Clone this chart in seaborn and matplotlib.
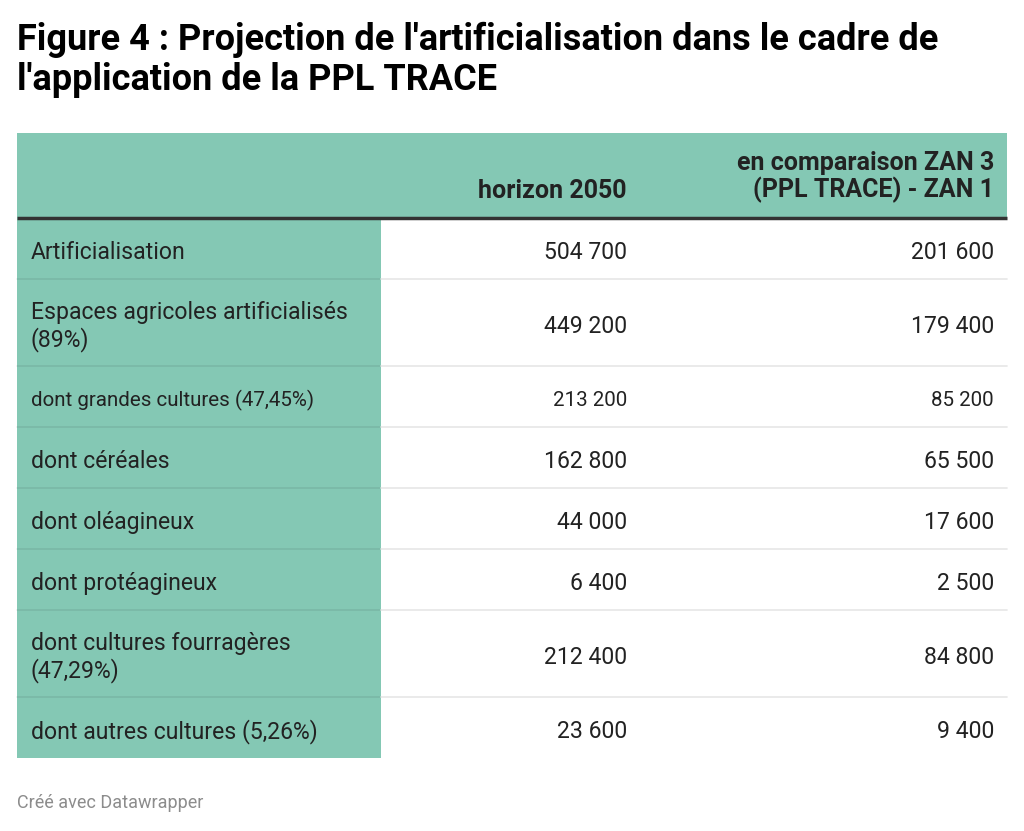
import numpy as np
import matplotlib.pyplot as plt
import seaborn as sns

# --- Données du tableau ---
row_labels = [
    "Artificialisation",
    "Espaces agricoles artificialisés\n(89%)",
    "dont grandes cultures (47,45%)",
    "dont céréales",
    "dont oléagineux",
    "dont protéagineux",
    "dont cultures fourragères\n(47,29%)",
    "dont autres cultures (5,26%)",
]
horizon_2050 = [504700, 449200, 213200, 162800, 44000, 6400, 212400, 23600]
comparaison_zan = [201600, 179400, 85200, 65500, 17600, 2500, 84800, 9400]
col_headers = ["", "horizon 2050", "en comparaison ZAN 3\n(PPL TRACE) - ZAN 1"]
small_rows = [2]  # ligne en plus petit

title = "Figure 4 : Projection de l'artificialisation dans le cadre de\nl'application de la PPL TRACE"
footer = "Créé avec Datawrapper"

GREEN = "#84c8b4"
TEXT = "#222222"


def fmt(v):
    return f"{v:,}".replace(",", " ")


sns.set_theme(style="white")
plt.rcParams["font.family"] = ["Roboto", "DejaVu Sans"]

fig = plt.figure(figsize=(10.24, 8.31), dpi=100)
ax = fig.add_axes([0, 0, 1, 1])
ax.set_xlim(0, 1024)
ax.set_ylim(831, 0)
ax.axis("off")

left, right = 17, 1007
col1_end = 381
x_val1, x_val2 = 627, 994
head_top, head_bot = 133, 218

# --- Hauteurs des lignes (selon nombre de lignes de texte) ---
n_lines = np.array([lab.count("\n") + 1 for lab in row_labels])
heights = 61 + 26 * (n_lines - 1)
tops = head_bot + np.concatenate([[0], np.cumsum(heights)[:-1]])
centers = tops + heights / 2

# --- En-tête ---
ax.barh(head_top, right - left, height=head_bot - head_top, left=left,
        align="edge", color=GREEN, linewidth=0)
ax.text(x_val1, 191, col_headers[1], ha="right", va="center",
        fontsize=18, fontweight="bold", color=TEXT)
ax.text(x_val2, 177, col_headers[2], ha="right", va="center",
        fontsize=18, fontweight="bold", color=TEXT, linespacing=1.12)

# --- Colonne verte des libellés ---
ax.barh(tops, col1_end - left, height=heights, left=left, align="edge",
        color=GREEN, linewidth=0)

# --- Séparateurs ---
for t in tops[1:]:
    ax.plot([left, col1_end], [t, t], color="black", alpha=0.08, lw=1.2)
    ax.plot([col1_end, right], [t, t], color="#e6e6e6", lw=1.2)
ax.plot([left, right], [head_bot, head_bot], color="#333333", lw=2.5,
        solid_capstyle="butt")

# --- Texte des lignes ---
for i, (lab, v1, v2, c) in enumerate(zip(row_labels, horizon_2050,
                                         comparaison_zan, centers)):
    fs = 14.8 if i in small_rows else 16.6
    ax.text(31, c + 4, lab, ha="left", va="center", fontsize=fs, color=TEXT,
            linespacing=1.12)
    ax.text(x_val1, c + 4, fmt(v1), ha="right", va="center", fontsize=fs, color=TEXT)
    ax.text(x_val2, c + 4, fmt(v2), ha="right", va="center", fontsize=fs, color=TEXT)

# --- Titre et source ---
ax.text(17, 22, title, ha="left", va="top", fontsize=26, fontweight="bold",
        color="black", linespacing=1.15)
ax.text(17, 803, footer, ha="left", va="center", fontsize=13, color="#8c8c8c")

fig.savefig("out.png", dpi=100)
